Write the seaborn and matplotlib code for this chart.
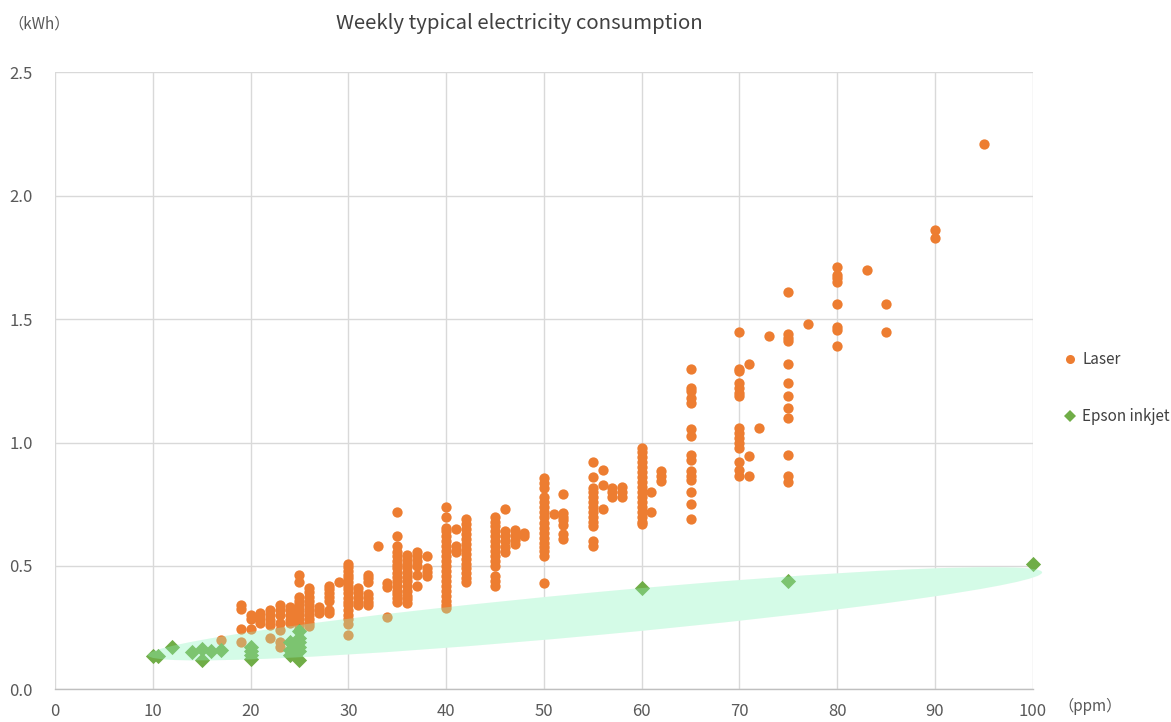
import numpy as np
import pandas as pd
import matplotlib
matplotlib.use("Agg")
import matplotlib.pyplot as plt
import seaborn as sns
from matplotlib.patches import Ellipse
from matplotlib.transforms import Affine2D
from matplotlib.lines import Line2D

# ---------------- data ----------------
laser_cols = {
    17: [0.20],
    19: [0.34, 0.325, 0.245, 0.19],
    20: [0.30, 0.285, 0.245],
    21: [0.31, 0.29, 0.27],
    22: [0.32, 0.30, 0.28, 0.26, 0.21],
    23: [0.34, 0.32, 0.30, 0.27, 0.24, 0.19, 0.17],
    24: [0.335, 0.32, 0.30, 0.28, 0.27],
    25: [0.465, 0.435, 0.375, 0.36, 0.345, 0.33, 0.315, 0.30, 0.285, 0.27, 0.26, 0.245],
    26: [0.41, 0.395, 0.375, 0.36, 0.34, 0.32, 0.30, 0.285, 0.27, 0.255],
    27: [0.335, 0.32, 0.31],
    28: [0.42, 0.405, 0.39, 0.375, 0.36, 0.32, 0.31],
    29: [0.435],
    30: [0.51, 0.495, 0.48, 0.465, 0.45, 0.435, 0.42, 0.405, 0.39, 0.37, 0.355, 0.34,
         0.32, 0.30, 0.285, 0.265, 0.22],
    31: [0.41, 0.395, 0.375, 0.355, 0.34],
    32: [0.465, 0.45, 0.435, 0.385, 0.37, 0.355, 0.34],
    33: [0.58],
    34: [0.43, 0.415, 0.295],
    35: [0.72, 0.62, 0.58, 0.555, 0.54, 0.52, 0.505, 0.49, 0.47, 0.455, 0.44, 0.42,
         0.40, 0.385, 0.37, 0.355],
    36: [0.545, 0.53, 0.51, 0.495, 0.475, 0.455, 0.44, 0.42, 0.40, 0.38, 0.365, 0.35],
    37: [0.555, 0.54, 0.52, 0.50, 0.465, 0.42],
    38: [0.54, 0.49, 0.475, 0.46],
    40: [0.74, 0.70, 0.655, 0.64, 0.62, 0.60, 0.58, 0.56, 0.54, 0.52, 0.50, 0.48,
         0.46, 0.44, 0.42, 0.40, 0.38, 0.36, 0.34, 0.33],
    41: [0.65, 0.58, 0.565, 0.555],
    42: [0.69, 0.67, 0.65, 0.63, 0.61, 0.59, 0.57, 0.55, 0.53, 0.51, 0.49, 0.47, 0.45, 0.435],
    45: [0.70, 0.68, 0.66, 0.64, 0.62, 0.60, 0.58, 0.56, 0.54, 0.52, 0.50, 0.46, 0.44, 0.42],
    46: [0.73, 0.64, 0.62, 0.60, 0.575, 0.555],
    47: [0.645, 0.625, 0.605, 0.59],
    48: [0.635, 0.62],
    50: [0.855, 0.835, 0.815, 0.78, 0.76, 0.74, 0.72, 0.70, 0.675, 0.655, 0.635, 0.615,
         0.595, 0.575, 0.56, 0.54, 0.43],
    51: [0.71],
    52: [0.79, 0.715, 0.70, 0.685, 0.665, 0.63, 0.61],
    55: [0.92, 0.86, 0.815, 0.80, 0.78, 0.76, 0.74, 0.72, 0.70, 0.68, 0.66, 0.60, 0.58],
    56: [0.89, 0.83, 0.73],
    57: [0.815, 0.80, 0.78],
    58: [0.82, 0.80, 0.78],
    60: [0.98, 0.96, 0.94, 0.92, 0.90, 0.88, 0.86, 0.84, 0.82, 0.80, 0.78, 0.76, 0.74,
         0.72, 0.70, 0.68, 0.67],
    61: [0.80, 0.72],
    62: [0.885, 0.865, 0.845],
    65: [1.30, 1.22, 1.21, 1.18, 1.16, 1.055, 1.025, 0.95, 0.93, 0.885, 0.865, 0.85,
         0.80, 0.75, 0.69],
    70: [1.45, 1.30, 1.29, 1.24, 1.22, 1.20, 1.19, 1.06, 1.04, 1.02, 1.00, 0.98, 0.92,
         0.89, 0.865],
    71: [1.32, 0.945, 0.865],
    72: [1.06],
    73: [1.43],
    75: [1.61, 1.44, 1.425, 1.41, 1.32, 1.24, 1.19, 1.14, 1.10, 0.95, 0.865, 0.84],
    77: [1.48],
    80: [1.71, 1.68, 1.665, 1.65, 1.56, 1.47, 1.455, 1.39],
    83: [1.70],
    85: [1.56, 1.45],
    90: [1.86, 1.83],
    95: [2.21],
}
laser_ppm = [p for p, vals in laser_cols.items() for _ in vals]
laser_kwh = [v for vals in laser_cols.values() for v in vals]

inkjet_ppm = [10, 10.5, 12, 14, 15, 15, 16, 17, 20, 20, 20, 20, 24, 24, 24,
              25, 25, 25, 25, 25, 25, 60, 75, 100]
inkjet_kwh = [0.137, 0.135, 0.173, 0.151, 0.165, 0.121, 0.155, 0.159, 0.17, 0.155,
              0.14, 0.125, 0.19, 0.16, 0.14, 0.235, 0.21, 0.19, 0.17, 0.155, 0.12,
              0.41, 0.44, 0.51]

x_ticks = [0, 10, 20, 30, 40, 50, 60, 70, 80, 90, 100]
y_ticks = [0.0, 0.5, 1.0, 1.5, 2.0, 2.5]

title = "Weekly typical electricity consumption"
y_unit = "（kWh）"
x_unit = "（ppm）"

df = pd.concat([
    pd.DataFrame({"ppm": laser_ppm, "kwh": laser_kwh, "series": "Laser"}),
    pd.DataFrame({"ppm": inkjet_ppm, "kwh": inkjet_kwh, "series": "Epson inkjet"}),
], ignore_index=True)

# ---------------- style ----------------
sns.set_theme(style="white")
plt.rcParams["font.family"] = ["Noto Sans CJK JP", "DejaVu Sans"]

ORANGE = "#ED7D31"
GREEN = "#70AD47"
GRID = "#D9D9D9"
TXT = "#595959"

fig = plt.figure(figsize=(11.71, 7.22), dpi=100)
ax = fig.add_axes([0.047, 0.0452, 0.8349, 0.8545])

ax.set_xlim(0, 100)
ax.set_ylim(0, 2.5)
ax.set_xticks(x_ticks)
ax.set_yticks(y_ticks)
ax.set_yticklabels([f"{v:.1f}" for v in y_ticks])
ax.grid(True, color=GRID, linewidth=1.0)
ax.set_axisbelow(True)
for s in ["left", "right", "top"]:
    ax.spines[s].set_visible(False)
ax.spines["bottom"].set_color("#BFBFBF")
ax.spines["bottom"].set_linewidth(1.0)
ax.tick_params(axis="both", length=0, labelsize=12, labelcolor=TXT)
ax.tick_params(axis="y", pad=16)
ax.tick_params(axis="x", pad=10)

# highlight ellipse (annotation shape, in isotropic screen-like units)
sx, sy = 9.777, 246.8
iso = Affine2D().scale(1 / sx, 1 / sy) + ax.transData
e_center = (55.23 * sx, 0.3063 * sy)
e_w, e_h, e_ang = 898, 42.8, 5.3
ax.add_patch(Ellipse(e_center, e_w, e_h, angle=e_ang, transform=iso,
                     facecolor="#F2FEF6", edgecolor="none", zorder=1, clip_on=False))

sns.scatterplot(data=df[df.series == "Laser"], x="ppm", y="kwh", ax=ax,
                color=ORANGE, marker="o", s=55, linewidth=0, zorder=2, legend=False)
sns.scatterplot(data=df[df.series == "Epson inkjet"], x="ppm", y="kwh", ax=ax,
                color=GREEN, marker="D", s=60, linewidth=0, zorder=2, legend=False,
                clip_on=False)

ax.add_patch(Ellipse(e_center, e_w, e_h, angle=e_ang, transform=iso,
                     facecolor="#96F5C8", edgecolor="none", alpha=0.32, zorder=3,
                     clip_on=False))

ax.set_xlabel("")
ax.set_ylabel("")

handles = [
    Line2D([], [], linestyle="none", marker="o", color=ORANGE, markersize=6.5, markeredgewidth=0),
    Line2D([], [], linestyle="none", marker="D", color=GREEN, markersize=6.5, markeredgewidth=0),
]
fig.legend(handles, ["Laser", "Epson inkjet"], loc="center left",
           bbox_to_anchor=(1058 / 1171, 1 - 388 / 722), frameon=False,
           fontsize=11, labelcolor="#404040", labelspacing=2.6,
           handlelength=0.8, handletextpad=0.4, borderaxespad=0)

fig.text(519 / 1171, 1 - 24 / 722, title, ha="center", va="center",
         fontsize=14.7, color="#404040")
fig.text(8 / 1171, 1 - 24 / 722, y_unit, ha="left", va="center",
         fontsize=11, color=TXT)
fig.text(1058 / 1171, 1 - 706 / 722, x_unit, ha="left", va="center",
         fontsize=11, color=TXT)

fig.savefig("out.png", dpi=100)
